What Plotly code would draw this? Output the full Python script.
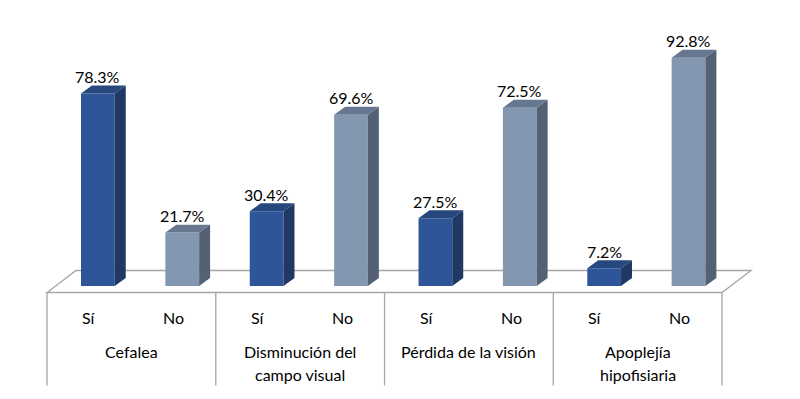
import plotly.graph_objects as go

# ---- data ----
groups = ["Cefalea", "Disminución del<br>campo visual", "Pérdida de la visión", "Apoplejía<br>hipofisiaria"]
responses = ["Sí", "No"]
si_values = [78.3, 30.4, 27.5, 7.2]
no_values = [21.7, 69.6, 72.5, 92.8]

# ---- styling ----
FONT = "Lato"
FACE = {"Sí": "#2E5597", "No": "#8497B0"}
TOP = {"Sí": "#26487F", "No": "#66778F"}
SIDE = {"Sí": "#1F3864", "No": "#546074"}
GRID = "#A6A6A6"

BAR_SHIFT = 0.103   # front face offset from slot centre (x units)
BAR_W = 0.40
DX, DY = 0.130, 3.25        # bar depth (x units, y units)
FDX, FDY = 0.344, 8.94      # floor depth
FLOOR_Y = -2.64
LABEL_BOTTOM = -40.4

slots, vals, resp = [], [], []
for g, (s, n) in enumerate(zip(si_values, no_values)):
    for k, (r, v) in enumerate(zip(responses, [s, n])):
        slots.append(g * 2 + k)
        vals.append(v)
        resp.append(r)
nslot = len(slots)

fig = go.Figure()

# front faces
for r in responses:
    xs = [s + BAR_SHIFT for s, rr in zip(slots, resp) if rr == r]
    ys = [v for v, rr in zip(vals, resp) if rr == r]
    fig.add_trace(go.Bar(x=xs, y=ys, width=BAR_W, marker=dict(color=FACE[r], line=dict(width=0)),
                         showlegend=False, hoverinfo="skip"))

# side and top faces
for r in responses:
    sx, sy, tx, ty = [], [], [], []
    for s, v, rr in zip(slots, vals, resp):
        if rr != r:
            continue
        x0 = s + BAR_SHIFT - BAR_W / 2
        x1 = s + BAR_SHIFT + BAR_W / 2
        sx += [x1, x1 + DX, x1 + DX, x1, None]
        sy += [0, DY, v + DY, v, None]
        tx += [x0, x1, x1 + DX, x0 + DX, None]
        ty += [v, v, v + DY, v + DY, None]
    fig.add_trace(go.Scatter(x=sx, y=sy, mode="lines", fill="toself", fillcolor=SIDE[r],
                             line=dict(width=0, color=SIDE[r]), showlegend=False, hoverinfo="skip"))
    fig.add_trace(go.Scatter(x=tx, y=ty, mode="lines", fill="toself", fillcolor=TOP[r],
                             line=dict(width=0, color=TOP[r]), showlegend=False, hoverinfo="skip"))

shapes = []
xl, xr = -0.5, nslot - 0.5
shapes.append(dict(type="path", xref="x", yref="y", layer="below",
                   path=f"M{xl},{FLOOR_Y} L{xr},{FLOOR_Y} L{xr+FDX},{FLOOR_Y+FDY} L{xl+FDX},{FLOOR_Y+FDY} Z",
                   fillcolor="white", line=dict(color=GRID, width=1.3)))
for g in range(len(groups) + 1):
    xg = -0.5 + 2 * g
    shapes.append(dict(type="line", xref="x", yref="y", layer="below",
                       x0=xg, x1=xg, y0=FLOOR_Y, y1=LABEL_BOTTOM, line=dict(color=GRID, width=1.3)))

ann = []
for s, v, r in zip(slots, vals, resp):
    ann.append(dict(x=s + BAR_SHIFT, y=v + 6.9, text=f"{v:.1f}%", showarrow=False,
                    xanchor="center", yanchor="middle", font=dict(size=16, color="#000000", family=FONT)))
    ann.append(dict(x=s, y=-12.6, text=r, showarrow=False, xanchor="center", yanchor="middle",
                    font=dict(size=16, color="#000000", family=FONT)))
for g, name in enumerate(groups):
    lines = name.split("<br>")
    ypos = [-26.8] if len(lines) == 1 else [-26.8, -36.1]
    for t, yy in zip(lines, ypos):
        ann.append(dict(x=2 * g + 0.5, y=yy, text=t, showarrow=False, xanchor="center", yanchor="middle",
                        font=dict(size=16, color="#000000", family=FONT)))

fig.update_layout(
    width=800, height=399, margin=dict(l=0, r=0, t=0, b=0),
    paper_bgcolor="white", plot_bgcolor="white",
    xaxis=dict(range=[-1.057, 8.424], visible=False, fixedrange=True),
    yaxis=dict(range=[-45.93, 116.26], visible=False, fixedrange=True),
    shapes=shapes, annotations=ann, barmode="overlay", showlegend=False,
)
fig.write_html("out.html", config={"displayModeBar": False},
               post_script="document.body.style.margin='0';document.body.style.overflow='hidden';")
